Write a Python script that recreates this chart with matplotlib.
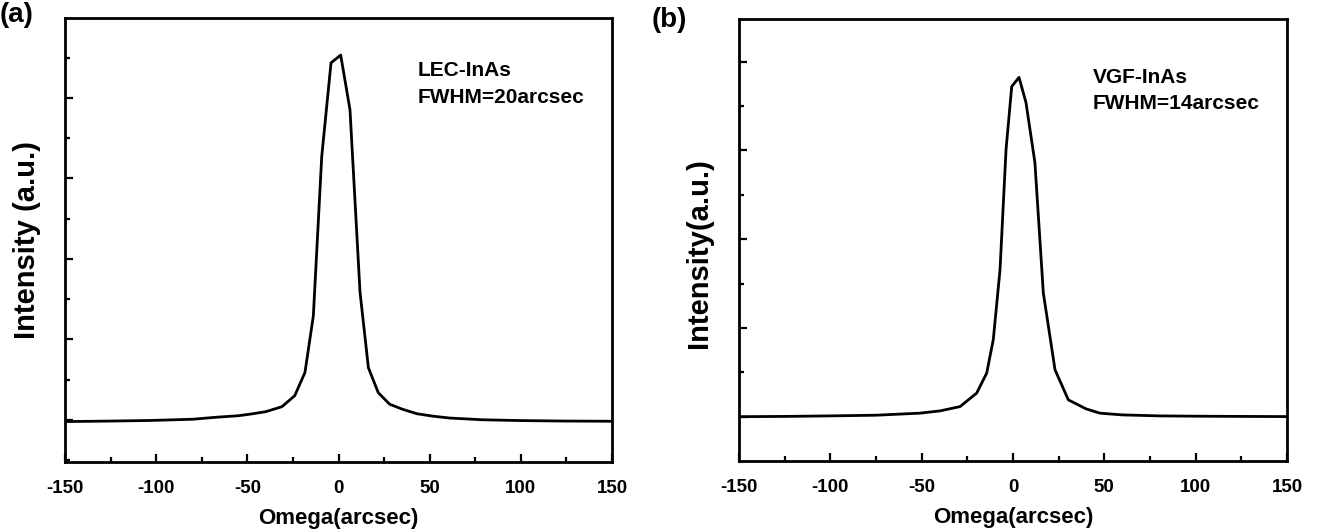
from __future__ import annotations

import matplotlib

matplotlib.use("Agg")
import matplotlib.pyplot as plt
from matplotlib.ticker import MultipleLocator, NullFormatter


FIGSIZE = (13.2, 5.32)
DPI = 100

# (a) LEC-InAs rocking curve, omega in arcsec, intensity in arbitrary units
LEC_OMEGA = [-150, -125, -103, -80, -67, -55, -48, -40, -31, -24, -18.4, -13.8, -9.2, -4.1,
             1.2, 6.3, 11.8, 16.4, 21.8, 28, 35, 43, 52, 61, 79, 100, 125, 150]
LEC_INTENSITY = [5, 18, 33, 63, 113, 150, 193, 250, 375, 650, 1225, 2633, 6593, 8925,
                 9118, 7758, 3225, 1343, 725, 438, 313, 200, 138, 93, 50, 30, 18, 13]

# (b) VGF-InAs rocking curve
VGF_OMEGA = [-150, -125, -100, -75, -51, -40, -29, -19.9, -14.4, -10.8, -7.1, -3.8, -0.7,
             3.3, 7.1, 12, 16.6, 23, 30.3, 40, 47.6, 60, 80, 100, 125, 150]
VGF_INTENSITY = [5, 11, 23, 38, 84, 135, 232, 535, 986, 1738, 3318, 6026, 7441,
                 7645, 7080, 5726, 2792, 1061, 384, 181, 84, 45, 23, 16, 11, 7]

PANELS = [
    {
        "tag": "(a)",
        "omega": LEC_OMEGA,
        "intensity": LEC_INTENSITY,
        "label": "LEC-InAs\nFWHM=20arcsec",
        "label_y": 0.851,
        "ylabel": "Intensity (a.u.)",
        "ylim": (-1000, 10040),
        "tick_offset": 50,
        "rect": [65 / 1320, 70 / 532, 547 / 1320, 444 / 532],
        "tag_xy": (0.0, 0.972),
        "ylabel_x": -0.043,
        "ylabel_y": 0.5,
    },
    {
        "tag": "(b)",
        "omega": VGF_OMEGA,
        "intensity": VGF_INTENSITY,
        "label": "VGF-InAs\nFWHM=14arcsec",
        "label_y": 0.838,
        "ylabel": "Intensity(a.u.)",
        "ylim": (-993, 8960),
        "tick_offset": 0,
        "rect": [739 / 1320, 71 / 532, 548 / 1320, 442 / 532],
        "tag_xy": (0.494, 0.962),
        "ylabel_x": -0.048,
        "ylabel_y": 0.47,
    },
]


def setup_matplotlib():
    plt.rcParams.update(
        {
            "font.family": ["Liberation Sans", "DejaVu Sans"],
            "font.weight": "bold",
            "axes.labelweight": "bold",
            "axes.unicode_minus": False,
            "axes.linewidth": 2.0,
            "xtick.direction": "in",
            "ytick.direction": "in",
            "xtick.major.size": 6,
            "ytick.major.size": 6,
            "xtick.minor.size": 3.5,
            "ytick.minor.size": 3.5,
            "xtick.major.width": 1.6,
            "ytick.major.width": 1.6,
            "xtick.minor.width": 1.6,
            "ytick.minor.width": 1.6,
            "xtick.labelsize": 13.5,
            "axes.labelsize": 16,
        }
    )


def plot_panel(fig, panel: dict) -> None:
    ax = fig.add_axes(panel["rect"])
    ax.plot(panel["omega"], panel["intensity"], color="black", linewidth=2.0)
    ax.set_xlim(-150, 150)
    ax.set_ylim(*panel["ylim"])
    ax.xaxis.set_major_locator(MultipleLocator(50))
    ax.xaxis.set_minor_locator(MultipleLocator(25))
    ax.yaxis.set_major_locator(MultipleLocator(2000, offset=panel["tick_offset"]))
    ax.yaxis.set_minor_locator(MultipleLocator(1000, offset=panel["tick_offset"]))
    ax.yaxis.set_major_formatter(NullFormatter())
    ax.tick_params(axis="x", pad=13)
    ax.set_xlabel("Omega(arcsec)", labelpad=8)
    ax.set_ylabel(panel["ylabel"], fontsize=21)
    ax.yaxis.set_label_coords(panel["ylabel_x"], panel["ylabel_y"])
    ax.text(0.645, panel["label_y"], panel["label"], transform=ax.transAxes, fontsize=15,
            fontweight="bold", linespacing=1.5, va="center", ha="left")
    fig.text(*panel["tag_xy"], panel["tag"], fontsize=20, fontweight="bold", va="center", ha="left")


def main() -> None:
    setup_matplotlib()
    fig = plt.figure(figsize=FIGSIZE, dpi=DPI)
    for panel in PANELS:
        plot_panel(fig, panel)
    fig.savefig("out.png", dpi=DPI)
    plt.close(fig)


if __name__ == "__main__":
    main()
